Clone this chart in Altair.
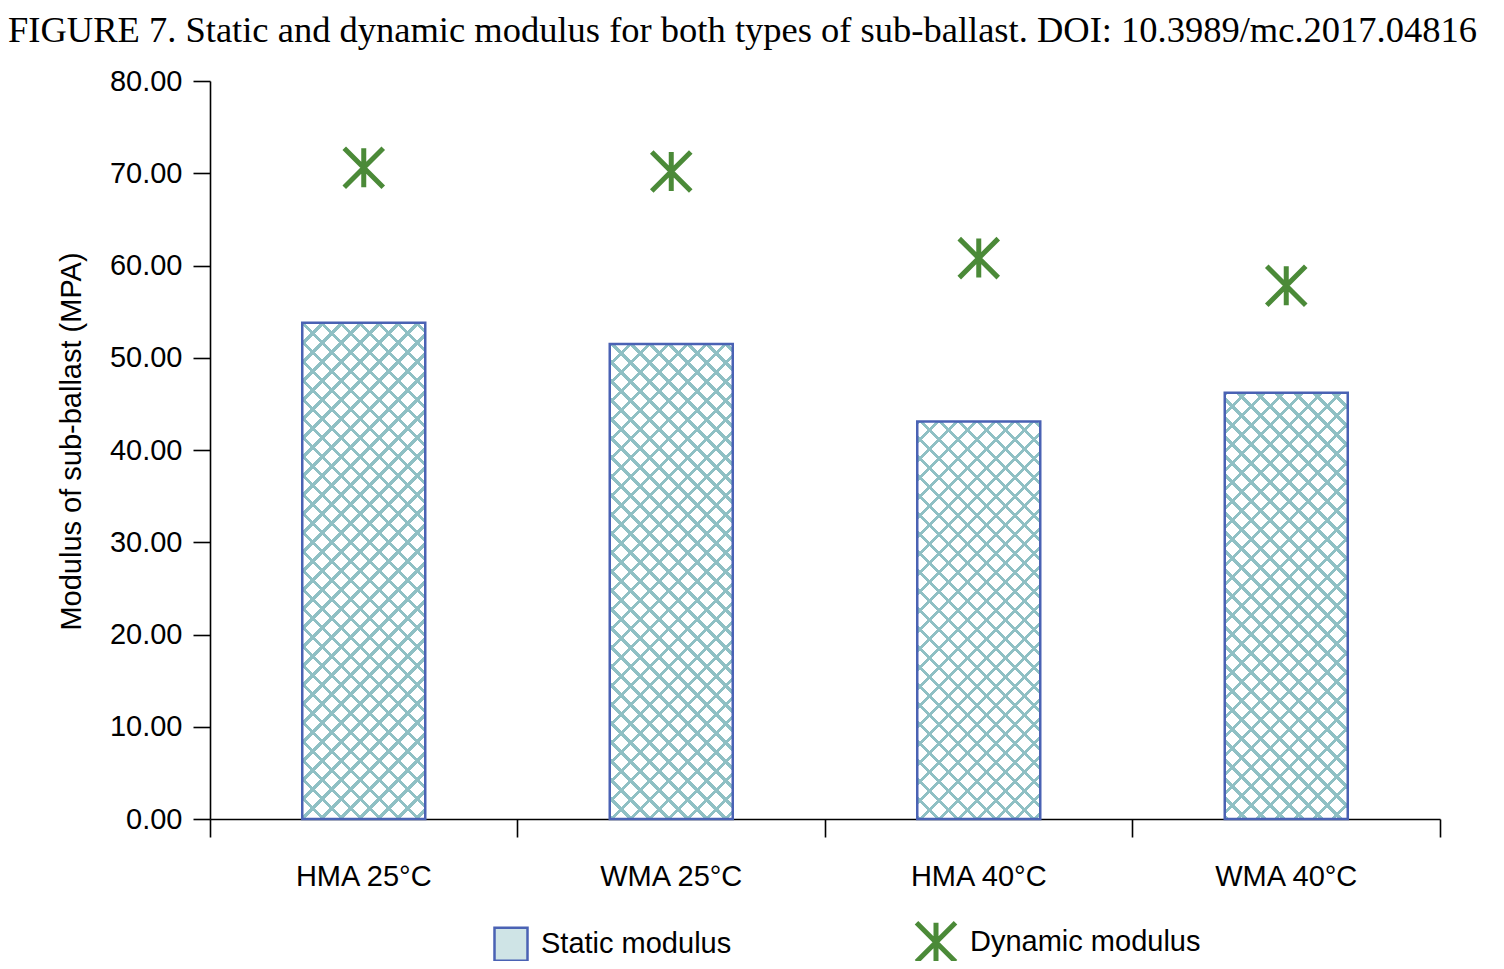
import altair as alt
import pandas as pd

# ---- data ----
categories = ["HMA 25°C", "WMA 25°C", "HMA 40°C", "WMA 40°C"]
static_modulus = [53.8, 51.5, 43.1, 46.2]
dynamic_modulus = [70.6, 70.2, 60.8, 57.8]
series_names = ["Static modulus", "Dynamic modulus"]
y_ticks = [0, 10, 20, 30, 40, 50, 60, 70, 80]

# ---- style ----
Y_MAX = 80
W, H = 1230, 738
BAR_W = 123
HATCH = "#8fc0c4"
EDGE = "#4a62b4"
GREEN = "#4b8a38"
SANS = "Liberation Sans"
SERIF = "Liberation Serif"
STAR = "M0,-1L0,1M-1,-1L1,1M-1,1L1,-1"
PERIOD = 19.0   # horizontal period of the hatch, px
LINE = 4.3      # line thickness measured along x, px

bars = pd.DataFrame({"category": categories, "value": static_modulus})
points = pd.DataFrame({"category": categories, "value": dynamic_modulus,
                       "series": series_names[1]})


def hatch_gradient(h, rising, background):
    """Stripes at 45 degrees for a bar of pixel size BAR_W x h."""
    span = BAR_W + h
    s = span / (BAR_W ** 2 + h ** 2)
    if rising:
        x1, y1, x2, y2 = 0, 0, s * BAR_W, s * h
    else:
        x1, y1, x2, y2 = 0, 1, s * BAR_W, 1 - s * h
    stops = []
    i = 0
    while i * PERIOD < span:
        a = i * PERIOD / span
        b = min((i * PERIOD + LINE) / span, 1)
        c = min((i + 1) * PERIOD / span, 1)
        stops += [alt.GradientStop(offset=a, color=HATCH),
                  alt.GradientStop(offset=b, color=HATCH),
                  alt.GradientStop(offset=b, color=background),
                  alt.GradientStop(offset=c, color=background)]
        i += 1
    return alt.LinearGradient(gradient="linear", stops=stops,
                              x1=x1, y1=y1, x2=x2, y2=y2)


x_enc = alt.X(
    "category:N", sort=categories,
    scale=alt.Scale(domain=categories, paddingInner=0, paddingOuter=0),
    axis=alt.Axis(title=None, labelAngle=0, bandPosition=1, tickExtra=True,
                  tickSize=18, labelPadding=25, labelFontSize=29,
                  labelFont=SANS, labelColor="black", domainColor="black",
                  tickColor="black", domainWidth=1.6, tickWidth=1.6,
                  grid=False),
)
y_enc = alt.Y(
    "value:Q",
    scale=alt.Scale(domain=[0, Y_MAX], nice=False, zero=True),
    axis=alt.Axis(values=y_ticks, format=".2f",
                  title="Modulus of sub-ballast (MPA)",
                  titleFont=SANS, titleFontSize=29, titleFontWeight="normal",
                  titleColor="black", titlePadding=23, titleY=360,
                  tickSize=17, labelPadding=11, labelFontSize=29,
                  labelFont=SANS, labelColor="black", domainColor="black",
                  tickColor="black", domainWidth=1.6, tickWidth=1.6,
                  grid=False),
)

layers = []
for cat, val in zip(categories, static_modulus):
    h = val * H / Y_MAX
    base = alt.Chart(bars).transform_filter(alt.datum.category == cat)
    layers.append(base.mark_bar(width=BAR_W, fill=hatch_gradient(h, True, "white"))
                  .encode(x=x_enc, y=y_enc))
    layers.append(base.mark_bar(width=BAR_W,
                                fill=hatch_gradient(h, False, "rgba(255,255,255,0)"))
                  .encode(x=x_enc, y=y_enc))

outline = alt.Chart(bars).mark_bar(width=BAR_W, fill="transparent",
                                   stroke=EDGE, strokeWidth=2.5).encode(x=x_enc, y=y_enc)
layers.append(outline)

leg = alt.Legend(title=None, orient="none", legendX=283, legendY=839,
                 direction="horizontal", columnPadding=174, labelOffset=12,
                 labelFont=SANS, labelFontSize=29, labelColor="black",
                 labelLimit=0)
stars = alt.Chart(points).mark_point(opacity=1).encode(
    x=x_enc, y=y_enc,
    shape=alt.Shape("series:N", scale=alt.Scale(domain=series_names, range=["square", STAR]), legend=leg),
    fill=alt.Fill("series:N", scale=alt.Scale(domain=series_names, range=["#cfe4e6", "transparent"]), legend=leg),
    stroke=alt.Stroke("series:N", scale=alt.Scale(domain=series_names, range=[EDGE, GREEN]), legend=leg),
    size=alt.Size("series:N", scale=alt.Scale(domain=series_names, range=[1089, 1521], padding=0), legend=leg),
    strokeWidth=alt.StrokeWidth("series:N", scale=alt.Scale(domain=series_names, range=[2.5, 5], padding=0), legend=leg),
)
layers.append(stars)

chart = alt.layer(*layers).properties(
    width=W, height=H,
    background="white",
    autosize=alt.AutoSizeParams(type="none"),
    padding={"left": 202, "top": 73, "right": 56, "bottom": 142},
    title=alt.TitleParams(
        text="FIGURE 7. Static and dynamic modulus for both types of sub-ballast. DOI: 10.3989/mc.2017.04816",
        font=SERIF, fontSize=36.5, fontWeight="normal", color="black",
        anchor="start", frame="group", dx=-202, offset=-11, baseline="alphabetic"),
).configure_view(stroke="transparent", strokeWidth=0)

chart.save("out.html", embed_options={"renderer": "svg", "actions": False})
